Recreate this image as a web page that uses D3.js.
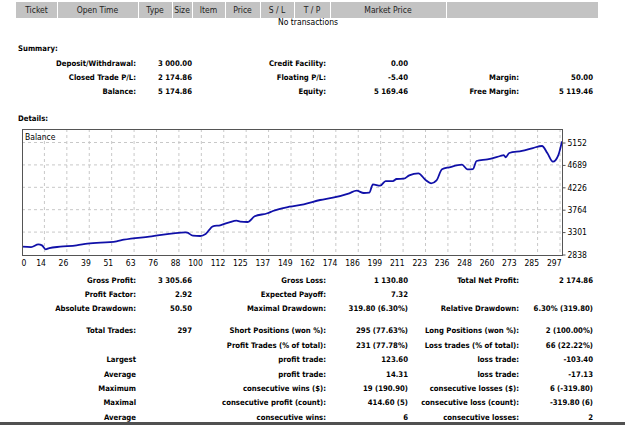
<!DOCTYPE html>
<html>
<head>
<meta charset="utf-8">
<style>
  body { margin: 0; background: #fff; }
  svg text { font-family: "DejaVu Sans Condensed", "DejaVu Sans", sans-serif; font-size: 8.5px; fill: #000; }
  svg text.b { font-weight: bold; font-size: 7.7px; }
  .grid line { stroke: #c8c8c8; stroke-dasharray: 3,3; }
  .axis path { display: none; }
  .axis line { stroke: #555; }
</style>
</head>
<body>
<div id="page"></div>
<script src="https://d3js.org/d3.v7.min.js"></script>
<script>

// ---- data ----
var headerCols = ["Ticket", "Open Time", "Type", "Size", "Item", "Price", "S / L", "T / P", "Market Price", ""];

var summaryRows = [
  ["Deposit/Withdrawal:", "3 000.00", "Credit Facility:", "0.00", "", ""],
  ["Closed Trade P/L:", "2 174.86", "Floating P/L:", "-5.40", "Margin:", "50.00"],
  ["Balance:", "5 174.86", "Equity:", "5 169.46", "Free Margin:", "5 119.46"]
];

var statRows = [
  ["Gross Profit:", "3 305.66", "Gross Loss:", "1 130.80", "Total Net Profit:", "2 174.86"],
  ["Profit Factor:", "2.92", "Expected Payoff:", "7.32", "", ""],
  ["Absolute Drawdown:", "50.50", "Maximal Drawdown:", "319.80 (6.30%)", "Relative Drawdown:", "6.30% (319.80)"]
];

var tradeRows = [
  ["Total Trades:", "297", "Short Positions (won %):", "295 (77.63%)", "Long Positions (won %):", "2 (100.00%)"],
  ["", "", "Profit Trades (% of total):", "231 (77.78%)", "Loss trades (% of total):", "66 (22.22%)"],
  ["Largest", "", "profit trade:", "123.60", "loss trade:", "-103.40"],
  ["Average", "", "profit trade:", "14.31", "loss trade:", "-17.13"],
  ["Maximum", "", "consecutive wins ($):", "19 (190.90)", "consecutive losses ($):", "6 (-319.80)"],
  ["Maximal", "", "consecutive profit (count):", "414.60 (5)", "consecutive loss (count):", "-319.80 (6)"],
  ["Average", "", "consecutive wins:", "6", "consecutive losses:", "2"]
];

var xTicks = [0, 14, 26, 39, 51, 63, 76, 88, 100, 112, 125, 137, 149, 162, 174, 186, 199, 211, 223, 236, 248, 260, 273, 285, 297];
var yTicks = [2838, 3301, 3764, 4226, 4689, 5152];

var tradeIdx = [0, 5, 9, 11, 13, 15, 21, 30, 36, 52, 56, 70, 90, 91, 94, 98, 101, 105, 109, 114, 118, 120, 124, 128, 135, 138,
  147, 155, 164, 171, 180, 184, 188, 191, 193, 197, 200, 204, 206, 210, 213, 218, 222, 225, 228, 231, 235, 242, 245, 248,
  250, 256, 263, 265, 266, 268, 275, 281, 286, 289, 292, 295, 297];
var balance = [3000, 2992, 3048, 3027, 2945, 2972, 2999, 3027, 3061, 3111, 3143, 3206, 3297, 3288, 3227, 3220, 3261, 3421, 3442, 3503, 3536, 3516, 3509, 3627, 3690, 3737,
  3825, 3875, 3964, 4012, 4103, 4156, 4109, 4115, 4288, 4259, 4356, 4356, 4398, 4404, 4474, 4516, 4377, 4309, 4371, 4598, 4640, 4693, 4598, 4604,
  4770, 4805, 4873, 4893, 4846, 4935, 4977, 5038, 5080, 4929, 4756, 4893, 5174.86];

// ---- layout ----
var W = 625, H = 425;
var headerEdges = [16, 57, 138, 172, 192, 225, 260, 294, 330, 446, 598];
var labelRight = [136, 326, 519];
var valueRight = [192, 408, 593];

var svg = d3.select("#page").append("svg")
    .attr("width", W)
    .attr("height", H);

// header bar
var hdr = svg.append("g");
headerCols.forEach(function(c, i) {
  var x0 = headerEdges[i], x1 = headerEdges[i + 1];
  hdr.append("rect")
      .attr("x", x0 + (i ? 1 : 0)).attr("y", 2)
      .attr("width", x1 - x0 - (i ? 1 : 0)).attr("height", 16)
      .attr("fill", "#c3c3c3");
  hdr.append("text")
      .attr("x", (x0 + x1) / 2).attr("y", 13)
      .attr("text-anchor", "middle")
      .style("fill", "#222")
      .text(c);
});
svg.append("text").attr("x", 308).attr("y", 25).attr("text-anchor", "middle").text("No transactions");

function drawRows(rows, ys) {
  rows.forEach(function(r, i) {
    for (var c = 0; c < 3; c++) {
      svg.append("text").attr("class", "b")
          .attr("x", labelRight[c]).attr("y", ys[i] + 3)
          .attr("text-anchor", "end").text(r[c * 2]);
      svg.append("text").attr("class", "b")
          .attr("x", valueRight[c]).attr("y", ys[i] + 3)
          .attr("text-anchor", "end").text(r[c * 2 + 1]);
    }
  });
}

svg.append("text").attr("class", "b").attr("x", 18).attr("y", 51).text("Summary:");
drawRows(summaryRows, [63, 77, 91]);

svg.append("text").attr("class", "b").attr("x", 18).attr("y", 121).text("Details:");

// ---- chart ----
var cl = 22, ct = 129, cr = 562, cb = 255;

var x = d3.scaleLinear().domain([0, 297]).range([cl, cr]);
var xp = d3.scalePoint().domain(xTicks).range([cl, 560]);
var y = d3.scaleLinear().domain([2838, 5152]).range([254.5, 142.5]);

var grid = svg.append("g").attr("class", "grid");
grid.selectAll("line.v").data(xTicks.slice(1)).enter().append("line")
    .attr("x1", function(d) { return xp(d); }).attr("x2", function(d) { return xp(d); })
    .attr("y1", ct).attr("y2", cb);
grid.selectAll("line.h").data(yTicks.slice(1)).enter().append("line")
    .attr("x1", cl).attr("x2", cr)
    .attr("y1", function(d) { return y(d); }).attr("y2", function(d) { return y(d); });

svg.append("text").attr("x", 25).attr("y", 140).text("Balance");

var line = d3.line()
    .x(function(d) { return x(d[0]); })
    .y(function(d) { return y(d[1]); })
    .curve(d3.curveMonotoneX);

svg.append("path")
    .datum(d3.zip(tradeIdx, balance))
    .attr("d", line)
    .attr("fill", "none")
    .attr("stroke", "#1010a8")
    .attr("stroke-width", 1.8);

svg.append("rect")
    .attr("x", cl + 0.5).attr("y", ct + 0.5)
    .attr("width", cr - cl).attr("height", cb - ct)
    .attr("fill", "none").attr("stroke", "#555");

var yAxis = svg.append("g").attr("class", "axis")
    .attr("transform", "translate(" + (cr + 0.5) + ",0)")
    .call(d3.axisRight(y).tickValues(yTicks).tickFormat(d3.format("d")).tickSize(3).tickPadding(2));
yAxis.selectAll("text").style("fill", "#000");

var xAxis = svg.append("g").attr("class", "axis")
    .attr("transform", "translate(0," + cb + ")")
    .call(d3.axisBottom(xp).tickSize(0).tickPadding(5));
xAxis.selectAll("text")
    .attr("text-anchor", function(d, i) { return i ? "end" : "start"; })
    .attr("dx", function(d, i) { return i ? 1 : -1; })
    .style("fill", "#000");

// ---- stats ----
drawRows(statRows, [280, 294, 308]);
drawRows(tradeRows, [330, 344.5, 359, 373.5, 388, 402, 416.5]);

// bottom strip
svg.append("rect").attr("x", 0).attr("y", 422).attr("width", W).attr("height", 3).attr("fill", "#505050");

</script>
</body>
</html>
